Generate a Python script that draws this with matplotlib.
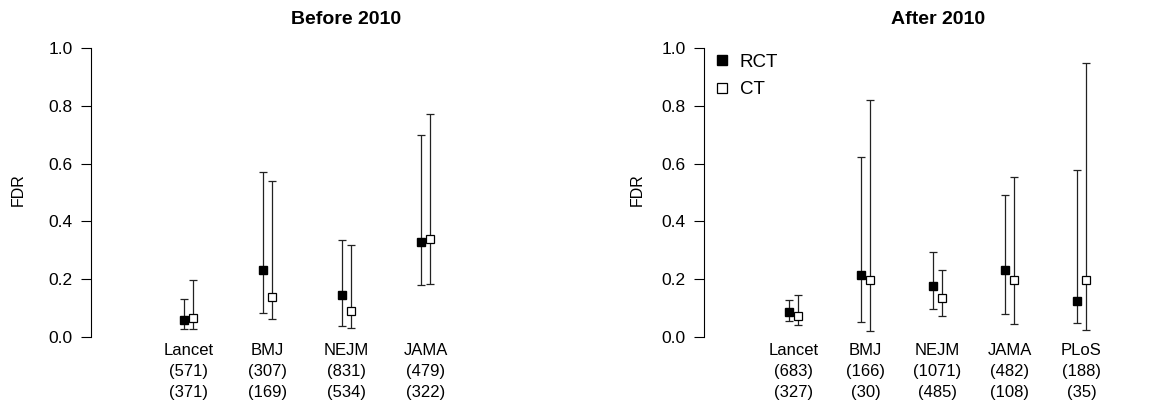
import numpy as np
import matplotlib
matplotlib.use('Agg')
from matplotlib import pyplot as plt

plt.rcParams['font.family'] = ['Liberation Sans', 'DejaVu Sans']

# Before 2010
before_names = ['Lancet', 'BMJ', 'NEJM', 'JAMA']
before_n_rct = [571, 307, 831, 479]
before_n_ct = [371, 169, 534, 322]
before_rct = [0.060, 0.232, 0.145, 0.328]
before_rct_lo = [0.029, 0.083, 0.039, 0.181]
before_rct_hi = [0.133, 0.571, 0.337, 0.700]
before_ct = [0.066, 0.137, 0.089, 0.339]
before_ct_lo = [0.029, 0.063, 0.030, 0.185]
before_ct_hi = [0.196, 0.539, 0.319, 0.773]

# After 2010
after_names = ['Lancet', 'BMJ', 'NEJM', 'JAMA', 'PLoS']
after_n_rct = [683, 166, 1071, 482, 188]
after_n_ct = [327, 30, 485, 108, 35]
after_rct = [0.087, 0.213, 0.176, 0.231, 0.125]
after_rct_lo = [0.055, 0.051, 0.096, 0.078, 0.050]
after_rct_hi = [0.129, 0.623, 0.294, 0.492, 0.578]
after_ct = [0.072, 0.196, 0.136, 0.196, 0.198]
after_ct_lo = [0.040, 0.020, 0.072, 0.046, 0.025]
after_ct_hi = [0.145, 0.819, 0.233, 0.555, 0.948]

W, H = 1149, 404
fig = plt.figure(figsize=(W / 100, H / 100), dpi=100)

ax1 = fig.add_axes([91 / W, 0.1515, 469 / W, 0.758])
ax2 = fig.add_axes([704 / W, 0.1515, 445 / W, 0.758])


def panel(ax, names, n1, n2, rct, rlo, rhi, ct, clo, chi, xlim, title, tx, lx):
    x = np.arange(1, len(names) + 1)
    off = 0.06
    rct = np.array(rct); ct = np.array(ct)
    ax.errorbar(x - off, rct, yerr=[rct - np.array(rlo), np.array(rhi) - rct],
                fmt='s', color='black', ecolor='#222222', elinewidth=0.9,
                capsize=2.6, capthick=0.9, markersize=5.5, zorder=3, label='RCT')
    ax.errorbar(x + off, ct, yerr=[ct - np.array(clo), np.array(chi) - ct],
                fmt='s', color='black', mfc='white', mec='black', mew=0.9,
                ecolor='#222222', elinewidth=0.9, capsize=2.6, capthick=0.9,
                markersize=5.5, zorder=3, label='CT')
    ax.set_xlim(*xlim)
    ax.set_ylim(-0.02, 1.04)
    ax.set_xticks(x)
    ax.set_xticklabels(['%s\n(%d)\n(%d)' % (a, b, c) for a, b, c in zip(names, n1, n2)],
                       fontsize=12, linespacing=1.5, va='top')
    ax.tick_params(axis='x', length=0, pad=0)
    ax.set_yticks([0, 0.2, 0.4, 0.6, 0.8, 1.0])
    ax.set_yticklabels(['0.0', '0.2', '0.4', '0.6', '0.8', '1.0'], fontsize=12.5)
    ax.tick_params(axis='y', length=7, width=0.8, pad=6)
    for s in ['top', 'right', 'bottom']:
        ax.spines[s].set_visible(False)
    ax.spines['left'].set_bounds(0, 1)
    ax.spines['left'].set_linewidth(0.8)
    ax.set_ylabel('FDR', fontsize=11.5)
    ax.yaxis.set_label_coords(lx, 0.5)
    ax.set_title(title, fontsize=14, fontweight='bold', x=tx, pad=9)


panel(ax1, before_names, before_n_rct, before_n_ct, before_rct, before_rct_lo,
      before_rct_hi, before_ct, before_ct_lo, before_ct_hi, (-0.234, 5.703),
      'Before 2010', 0.544, -0.1386)
panel(ax2, after_names, after_n_rct, after_n_ct, after_rct, after_rct_lo,
      after_rct_hi, after_ct, after_ct_lo, after_ct_hi, (-0.243, 5.938),
      'After 2010', 0.526, -0.1326)

h, l = ax2.get_legend_handles_labels()
h = [hh[0] for hh in h]
leg = ax2.legend(h, l, loc='upper left', bbox_to_anchor=(0.009, 0.969), frameon=False,
                 fontsize=13.5, handlelength=0.7, handletextpad=0.6, labelspacing=0.56,
                 borderaxespad=0.0, markerscale=1.2)

plt.savefig('out.png', dpi=100)
